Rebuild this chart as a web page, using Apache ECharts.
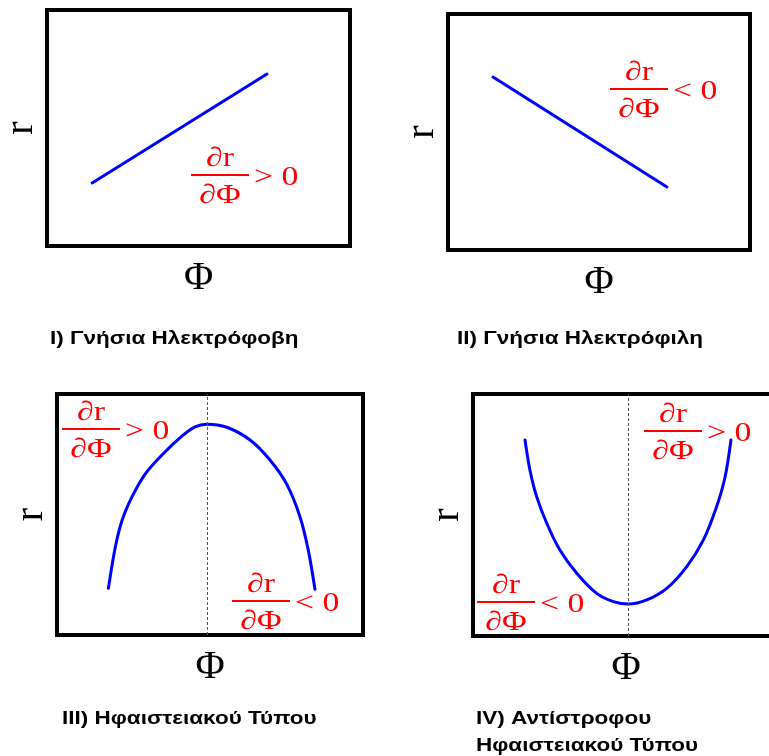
<!DOCTYPE html>
<html>
<head>
<meta charset="utf-8">
<script src="https://cdn.jsdelivr.net/npm/echarts@6/dist/echarts.min.js"></script>
<style>
  html, body { margin: 0; padding: 0; background: #fff; }
  #main { width: 769px; height: 756px; }
</style>
</head>
<body>
<div id="main"></div>
<script>
// Panel captions
const panelTitles = [
  'I) Γνήσια Ηλεκτρόφοβη',
  'II) Γνήσια Ηλεκτρόφιλη',
  'III) Ηφαιστειακού Τύπου',
  'IV) Αντίστροφου\nΗφαιστειακού Τύπου'
];
const xAxisName = 'Φ';
const yAxisName = 'r';

// Sampled (Φ, r) points of each curve, both axes on a 0–100 scale
const phiI = [14.9, 72.6];
const rI = [26.7, 72.9];

const phiII = [14.9, 72.5];
const rII = [73.3, 26.7];

const phiIII = [16.8, 19.0, 21.2, 24.5, 28.8, 34.3, 40.9, 45.1, 48.9, 55.5, 63.1, 69.6, 75.1, 79.4, 82.1, 84.3];
const rIII   = [19.4, 36.1, 47.3, 57.3, 66.8, 74.7, 82.6, 86.4, 87.5, 86.2, 80.9, 72.6, 62.5, 49.1, 35.3, 19.0];

const phiIV = [17.0, 18.6, 20.8, 24.1, 28.4, 33.9, 40.4, 45.9, 50.8, 56.8, 63.3, 69.8, 75.3, 79.6, 82.4, 84.3];
const rIV   = [81.0, 68.6, 57.6, 46.6, 35.5, 25.9, 17.6, 14.2, 13.2, 14.9, 19.7, 28.6, 39.7, 53.4, 65.8, 81.0];

// Φ of the extremum in panels III and IV (dashed guide)
const extremumPhi = [49.0, 50.7];

// Sign of ∂r/∂Φ shown in each annotation
const slopeSigns = ['> 0', '< 0', '> 0', '< 0', '> 0', '< 0'];

const curves = [
  [phiI, rI],
  [phiII, rII],
  [phiIII, rIII],
  [phiIV, rIV]
];

// Plot boxes (the last box runs past the right edge)
const boxes = [
  { left: 47, top: 10, width: 303, height: 236 },
  { left: 448, top: 14, width: 302, height: 236 },
  { left: 57, top: 394, width: 306, height: 241 },
  { left: 473, top: 394, right: -10, height: 242 }
];

const RED = '#ff0000';
const BLUE = '#0000ff';
const SERIF = '"Liberation Serif", "DejaVu Serif", serif';
const SANS = '"Liberation Sans", Arial, sans-serif';

const grids = boxes.map(b => Object.assign({
  show: true,
  borderColor: '#000',
  borderWidth: 4,
  backgroundColor: 'transparent',
  containLabel: false,
  outerBoundsMode: 'none'
}, b));

const nameStyle = { fontFamily: SERIF, fontSize: 40, color: '#000' };

const xAxes = boxes.map((b, i) => ({
  gridIndex: i, type: 'value', min: 0, max: 100,
  axisLine: { show: false }, axisTick: { show: false },
  axisLabel: { show: false }, splitLine: { show: false },
  name: xAxisName, nameLocation: 'middle', nameGap: 12,
  nameTextStyle: nameStyle
}));

const yAxes = boxes.map((b, i) => ({
  gridIndex: i, type: 'value', min: 0, max: 100,
  axisLine: { show: false }, axisTick: { show: false },
  axisLabel: { show: false }, splitLine: { show: false },
  name: yAxisName, nameLocation: 'middle', nameGap: 6, nameRotate: 90,
  nameTextStyle: nameStyle
}));

const series = curves.map((c, i) => {
  const s = {
    type: 'line',
    xAxisIndex: i, yAxisIndex: i,
    data: c[0].map((p, k) => [p, c[1][k]]),
    smooth: i >= 2 ? 0.3 : false,
    smoothConstraint: false,
    showSymbol: false,
    symbol: 'none',
    lineStyle: { color: BLUE, width: 3, cap: 'round' },
    z: 3,
    animation: false
  };
  if (i >= 2) {
    s.markLine = {
      silent: true,
      symbol: 'none',
      label: { show: false },
      lineStyle: { color: '#555', width: 1, type: [3, 2] },
      data: [{ xAxis: extremumPhi[i - 2] }],
      animation: false
    };
  }
  return s;
});

// ∂r/∂Φ fraction annotation with its bar starting at (x, y)
function fraction(x, y, sign) {
  const w = 58;
  const font = '27px ' + SERIF;
  const stretch = 1.25;
  const txt = (text, tx, ty, align) => ({
    type: 'text', x: tx, y: ty, scaleX: stretch,
    style: { text: text, x: 0, y: 0, font: font, fill: RED, align: align, verticalAlign: 'middle' }
  });
  return {
    type: 'group',
    z: 10,
    children: [
      { type: 'rect', shape: { x: x, y: y - 1, width: w, height: 2 }, style: { fill: RED } },
      txt('∂r', x + w / 2, y - 16, 'center'),
      txt('∂Φ', x + w / 2, y + 21, 'center'),
      txt(sign, x + w + 5, y + 3, 'left')
    ]
  };
}

const fractionAnchors = [
  [191, 175], [610, 89], [62, 429], [232, 601], [644, 431], [477, 602]
];

const graphic = fractionAnchors.map((a, i) => fraction(a[0], a[1], slopeSigns[i]));

// Panel captions, slightly widened bold sans
const titlePos = [[50, 326], [457, 326], [62, 706], [476, 706]];
panelTitles.forEach((t, i) => {
  graphic.push({
    type: 'text',
    x: titlePos[i][0], y: titlePos[i][1], scaleX: 1.25,
    z: 10,
    style: {
      text: t, x: 0, y: 0,
      font: 'bold 18px ' + SANS,
      fill: '#000',
      align: 'left', verticalAlign: 'top',
      lineHeight: 27
    }
  });
});

const chart = echarts.init(document.getElementById('main'), null, { renderer: 'canvas' });
chart.setOption({
  animation: false,
  backgroundColor: '#fff',
  grid: grids,
  xAxis: xAxes,
  yAxis: yAxes,
  series: series,
  graphic: graphic
});
</script>
</body>
</html>
